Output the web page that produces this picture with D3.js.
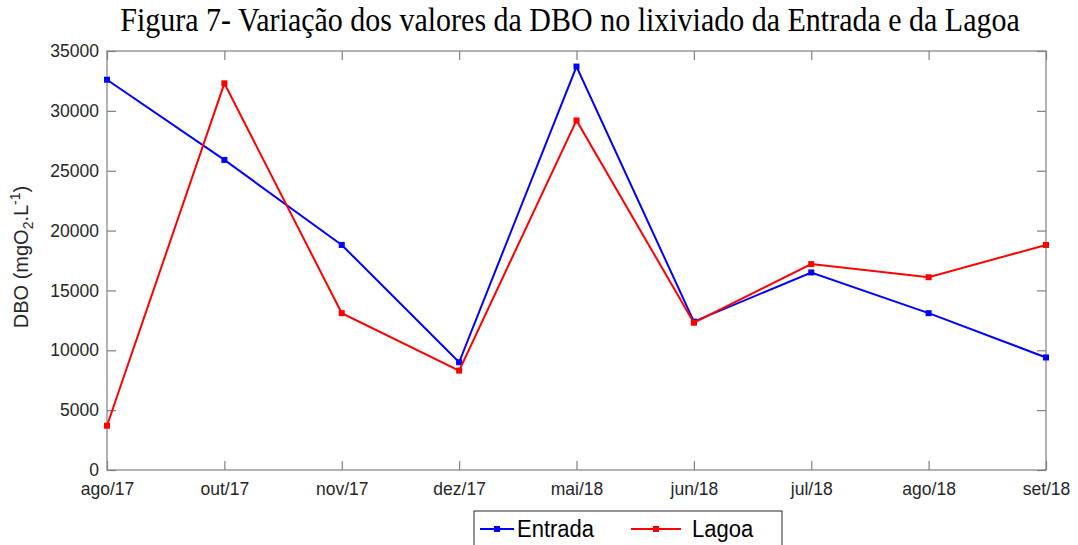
<!DOCTYPE html>
<html>
<head>
<meta charset="utf-8">
<script src="https://cdn.jsdelivr.net/npm/d3@7"></script>
<style>
  body { margin: 0; background: #fff; }
  svg { display: block; }
</style>
</head>
<body>
<div id="chart"></div>
<script>
const months = ["ago/17", "out/17", "nov/17", "dez/17", "mai/18", "jun/18", "jul/18", "ago/18", "set/18"];
const entrada = [32600, 25900, 18800, 9000, 33700, 12400, 16500, 13100, 9400];
const lagoa = [3700, 32300, 13100, 8300, 29200, 12300, 17200, 16100, 18800];
const yTicks = [0, 5000, 10000, 15000, 20000, 25000, 30000, 35000];

const width = 1078, height = 545;
const margin = { top: 51, right: 32, bottom: 75, left: 107 };
const innerW = width - margin.left - margin.right;
const innerH = height - margin.top - margin.bottom;
const axisColor = "#808080";
const textColor = "#262626";
const sans = "Liberation Sans, Arial, sans-serif";

const svg = d3.select("#chart").append("svg")
  .attr("width", width)
  .attr("height", height);

// title (reference is a bit stretched vertically)
svg.append("text")
  .attr("transform", "translate(570,31) scale(1,1.15)")
  .attr("text-anchor", "middle")
  .attr("font-family", "Liberation Serif, Times New Roman, serif")
  .attr("font-size", "30px")
  .attr("fill", "#000")
  .text("Figura 7- Variação dos valores da DBO no lixiviado da Entrada e da Lagoa");

const g = svg.append("g")
  .attr("transform", `translate(${margin.left},${margin.top})`);

const x = d3.scalePoint().domain(months).range([0, innerW]);
const y = d3.scaleLinear().domain([0, 35000]).range([innerH, 0]);

// box
g.append("rect")
  .attr("width", innerW)
  .attr("height", innerH)
  .attr("fill", "none")
  .attr("stroke", axisColor)
  .attr("stroke-width", 1.2);

const tickLen = 9;

const yAxis = g.append("g")
  .call(d3.axisLeft(y).tickValues(yTicks).tickSize(-tickLen).tickPadding(8).tickFormat(d3.format("d")));
const yAxisR = g.append("g")
  .attr("transform", `translate(${innerW},0)`)
  .call(d3.axisRight(y).tickValues(yTicks).tickSize(-tickLen).tickFormat(""));
const xAxis = g.append("g")
  .attr("transform", `translate(0,${innerH})`)
  .call(d3.axisBottom(x).tickSize(-tickLen).tickPadding(13));
const xAxisT = g.append("g")
  .call(d3.axisTop(x).tickSize(-tickLen).tickFormat(""));

[yAxis, yAxisR, xAxis, xAxisT].forEach(a => {
  a.select(".domain").remove();
  a.selectAll(".tick line").attr("stroke", axisColor).attr("stroke-width", 1.2);
  a.selectAll("text")
    .attr("font-family", sans)
    .attr("font-size", "17.5px")
    .attr("fill", textColor);
});

// y label
const yl = svg.append("text")
  .attr("transform", `translate(28,257) rotate(-90)`)
  .attr("text-anchor", "middle")
  .attr("font-family", sans)
  .attr("font-size", "20px")
  .attr("fill", textColor);
yl.append("tspan").text("DBO (mgO");
yl.append("tspan").attr("font-size", "14px").attr("dy", 5).text("2");
yl.append("tspan").attr("dy", -5).text(".L");
yl.append("tspan").attr("font-size", "14px").attr("dy", -8).text("-1");
yl.append("tspan").attr("dy", 8).text(")");

const line = d3.line().x((d, i) => x(months[i])).y(d => y(d));

const series = [
  { name: "Entrada", values: entrada, color: "#0000ff" },
  { name: "Lagoa", values: lagoa, color: "#ff0000" }
];

series.forEach(s => {
  g.append("path")
    .datum(s.values)
    .attr("fill", "none")
    .attr("stroke", s.color)
    .attr("stroke-width", 2)
    .attr("d", line);
  g.selectAll(null)
    .data(s.values)
    .join("rect")
    .attr("x", (d, i) => x(months[i]) - 3)
    .attr("y", d => y(d) - 3)
    .attr("width", 6)
    .attr("height", 6)
    .attr("fill", s.color);
});

// legend
const lg = svg.append("g").attr("transform", "translate(474,511)");
lg.append("rect")
  .attr("width", 308)
  .attr("height", 40)
  .attr("fill", "#fff")
  .attr("stroke", "#262626")
  .attr("stroke-width", 1);

const legendItems = [
  { s: series[0], x0: 6, x1: 40, tx: 43 },
  { s: series[1], x0: 157, x1: 207, tx: 218 }
];
legendItems.forEach(it => {
  lg.append("line")
    .attr("x1", it.x0).attr("x2", it.x1)
    .attr("y1", 18).attr("y2", 18)
    .attr("stroke", it.s.color).attr("stroke-width", 2);
  lg.append("rect")
    .attr("x", (it.x0 + it.x1) / 2 - 3).attr("y", 15)
    .attr("width", 6).attr("height", 6)
    .attr("fill", it.s.color);
  lg.append("text")
    .attr("x", it.tx)
    .attr("y", 26)
    .attr("transform", "translate(0,26) scale(1,1.1) translate(0,-26)")
    .attr("font-family", sans)
    .attr("font-size", "22px")
    .attr("fill", "#000")
    .text(it.s.name);
});
</script>
</body>
</html>
